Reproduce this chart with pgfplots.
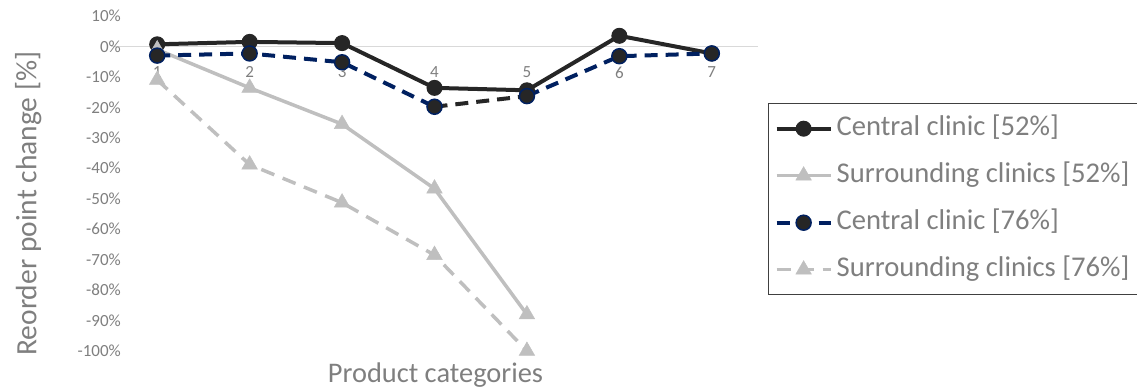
\documentclass[border=0pt]{standalone}
\usepackage{pgfplots}
\pgfplotsset{compat=1.18}
\usepackage{fontspec}
\setmainfont{Carlito}

\definecolor{seriesdark}{HTML}{262626}
\definecolor{seriesgray}{HTML}{BFBFBF}
\definecolor{seriesnavy}{HTML}{002060}
\definecolor{labelgray}{HTML}{7F7F7F}
\definecolor{zeroline}{HTML}{D9D9D9}
\definecolor{legendframe}{HTML}{404040}

\newcommand{\tickfont}{\fontsize{17}{20}\selectfont}

\begin{document}
\begin{tikzpicture}
\path[use as bounding box] (0,0) rectangle (1137pt,390pt);
\begin{axis}[
  at={(111pt,39pt)}, anchor=south west,
  scale only axis, width=647pt, height=335pt,
  xmin=0.5, xmax=7.5, ymin=-100, ymax=10,
  axis x line=middle, axis y line=left,
  x axis line style={draw=zeroline, line width=1.3pt, -},
  y axis line style={draw=none},
  major tick length=0pt,
  xtick={1,...,7},
  xticklabels={1,2,3,4,5,6,7},
  ytick={-100,-90,...,10},
  yticklabels={-100\%,-90\%,-80\%,-70\%,-60\%,-50\%,-40\%,-30\%,-20\%,-10\%,0\%,10\%},
  yticklabel style={font=\tickfont, text=labelgray, anchor=east, inner sep=0pt, xshift=10pt},
  xticklabel style={font=\tickfont, text=labelgray, anchor=center, inner sep=0pt, yshift=-26pt},
  xlabel={Product categories},
  ylabel={Reorder point change [\%]},
  xlabel style={at={(axis description cs:0.5015,-0.072)}, anchor=center,
    font=\fontsize{28.4}{34}\selectfont, text=labelgray},
  ylabel style={at={(axis description cs:-0.128,0.44)}, anchor=center, rotate=0,
    font=\fontsize{29.5}{34}\selectfont, text=labelgray},
  unbounded coords=jump,
  legend style={at={(axis description cs:1.0155,0.740)}, anchor=north west,
    draw=legendframe, line width=1.2pt, text=labelgray,
    font=\fontsize{28.6}{34}\selectfont,
    inner xsep=6pt, inner ysep=10pt, row sep=17pt,
    nodes={text height=21pt, text depth=7pt, inner ysep=1pt, inner xsep=4pt}},
  legend cell align=left,
  legend image code/.code={\draw[mark repeat=2,mark phase=2,#1]
    plot coordinates {(0pt,0pt)(27pt,0pt)(54pt,0pt)};},
]
% central clinic, 52% service level
\addplot[seriesdark, line width=4pt, mark=*, mark size=7.5pt,
  mark options={solid, fill=seriesdark, draw=seriesdark, line width=1pt}]
  coordinates {(1,0.7)(2,1.5)(3,1.1)(4,-13.6)(5,-14.4)(6,3.5)(7,-2.3)};
\addlegendentry{Central clinic [52\%]}
% surrounding clinics, 52% service level
\addplot[seriesgray, line width=3.5pt, mark=triangle*, mark size=9pt,
  mark options={solid, fill=seriesgray, draw=seriesgray, line width=0.5pt}]
  coordinates {(1,-1)(2,-13.6)(3,-25.5)(4,-46.7)(5,-88)};
\addlegendentry{Surrounding clinics [52\%]}
% the segment between categories 4 and 5 is drawn in black
\addplot[forget plot, seriesdark, line width=4pt, line cap=butt,
  dash pattern=on 13pt off 8pt, mark=none]
  coordinates {(4,-19.8)(5,-16.3)};
% central clinic, 76% service level
\addplot[seriesnavy, line width=4pt, line cap=butt, dash pattern=on 13pt off 8pt,
  mark=*, mark size=7.5pt,
  mark options={solid, fill=seriesdark, draw=seriesnavy, line width=1.5pt}]
  coordinates {(1,-3.0)(2,-2.3)(3,-5.2)(4,-19.8)(4.5,nan)(5,-16.3)(6,-3.2)(7,-2.3)};
\addlegendentry{Central clinic [76\%]}
% surrounding clinics, 76% service level
\addplot[seriesgray, line width=3.5pt, line cap=butt, dash pattern=on 14pt off 9pt,
  mark=triangle*, mark size=9pt,
  mark options={solid, fill=seriesgray, draw=seriesgray, line width=0.5pt}]
  coordinates {(1,-11)(2,-38.8)(3,-51.3)(4,-68.5)(5,-100)};
\addlegendentry{Surrounding clinics [76\%]}
\end{axis}
\end{tikzpicture}
\end{document}
